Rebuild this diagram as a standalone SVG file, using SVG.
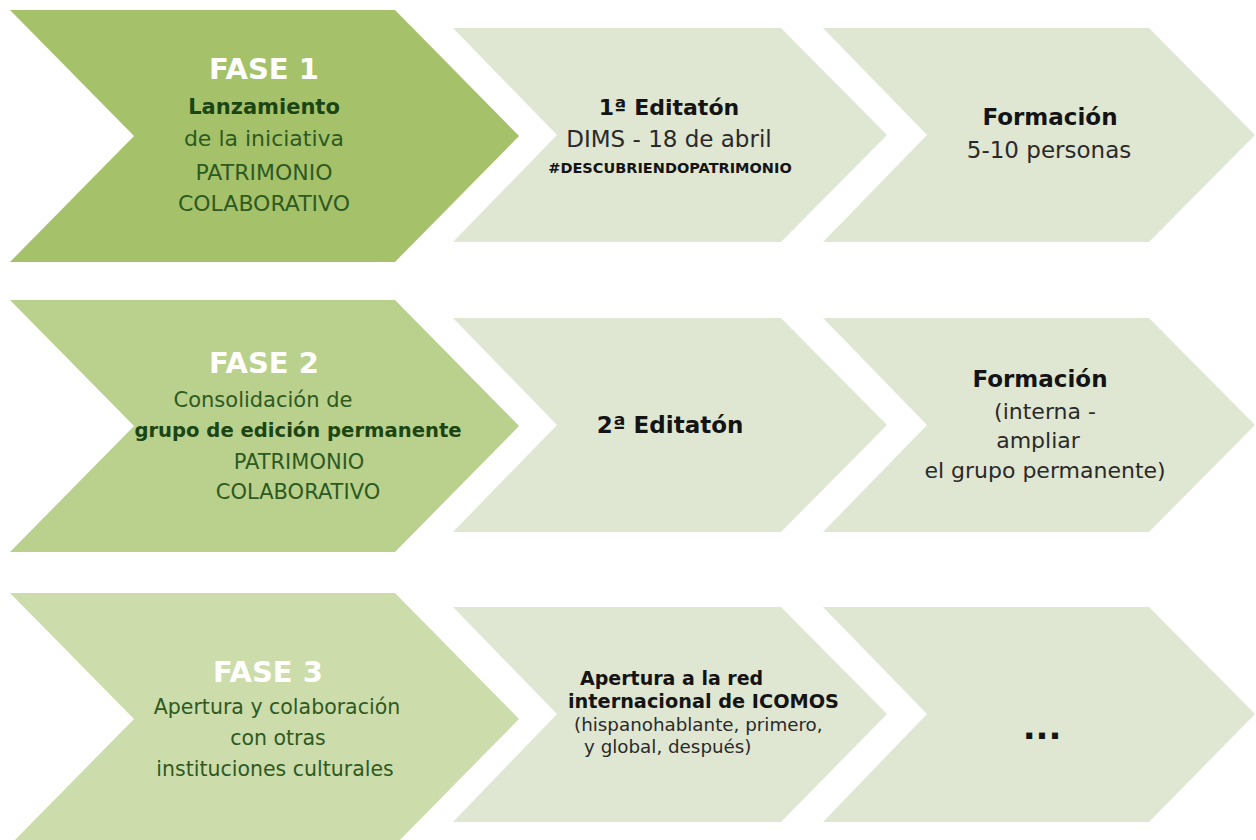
<svg xmlns="http://www.w3.org/2000/svg" width="1256" height="840" viewBox="0 0 1256 840">
<style>
.bg{fill:#ffffff}
.p1{fill:#a5c26b}
.p2{fill:#b9d18c}
.p3{fill:#cddcab}
.st{fill:#dfe6d2}
text{font-family:"DejaVu Sans","Liberation Sans",sans-serif;text-anchor:middle}
.fase{font-weight:bold;fill:#ffffff;font-size:29px}
.gb{font-weight:bold;fill:#1b4512}
.gr{fill:#2e5a22}
.kb{font-weight:bold;fill:#141414}
.kr{fill:#2a2a2a}
.l{text-anchor:start}
</style>
<rect class="bg" x="0" y="0" width="1256" height="840"/>
<g id="connectors"/>
<g id="fase1">
<polygon class="p1" points="10,10 395,10 519,136 395,262 10,262 134,136"/>
<text class="fase" x="264" y="79">FASE 1</text>
<text class="gb" x="264" y="114" font-size="21">Lanzamiento</text>
<text class="gr" x="264" y="146" font-size="22">de la iniciativa</text>
<text class="gr" x="264" y="180" font-size="22">PATRIMONIO</text>
<text class="gr" x="264" y="211" font-size="22">COLABORATIVO</text>
</g>
<g id="editaton1">
<polygon class="st" points="453,28 781,28 887,135 781,242 453,242 557,135"/>
<text class="kb" x="669" y="115" font-size="22">1ª Editatón</text>
<text class="kr" x="669" y="147" font-size="23">DIMS - 18 de abril</text>
<text class="kb" x="670" y="173" font-size="14.5">#DESCUBRIENDOPATRIMONIO</text>
</g>
<g id="formacion1">
<polygon class="st" points="823,28 1149,28 1255,135 1149,242 823,242 927,135"/>
<text class="kb" x="1050" y="125" font-size="23">Formación</text>
<text class="kr" x="1049" y="158" font-size="23">5-10 personas</text>
</g>
<g id="fase2">
<polygon class="p2" points="10,300 395,300 519,426 395,552 10,552 134,426"/>
<text class="fase" x="264" y="373">FASE 2</text>
<text class="gr" x="263" y="407" font-size="21">Consolidación de</text>
<text class="gb" x="298" y="437" font-size="19.6">grupo de edición permanente</text>
<text class="gr" x="299" y="469" font-size="21">PATRIMONIO</text>
<text class="gr" x="298" y="499" font-size="21">COLABORATIVO</text>
</g>
<g id="editaton2">
<polygon class="st" points="453,318 781,318 887,425 781,532 453,532 557,425"/>
<text class="kb" x="670" y="433" font-size="23">2ª Editatón</text>
</g>
<g id="formacion2">
<polygon class="st" points="823,318 1149,318 1255,425 1149,532 823,532 927,425"/>
<text class="kb" x="1040" y="387" font-size="23">Formación</text>
<text class="kr" x="1045" y="419" font-size="22">(interna -</text>
<text class="kr" x="1038" y="448" font-size="22">ampliar</text>
<text class="kr" x="1045" y="478" font-size="22">el grupo permanente)</text>
</g>
<g id="fase3">
<polygon class="p3" points="10,593 395,593 519,719 395,845 10,845 134,719"/>
<text class="fase" x="268" y="682">FASE 3</text>
<text class="gr" x="277" y="714" font-size="20.5">Apertura y colaboración</text>
<text class="gr" x="278" y="745" font-size="20.5">con otras</text>
<text class="gr" x="275" y="776" font-size="20.5">instituciones culturales</text>
</g>
<g id="apertura">
<polygon class="st" points="453,607 781,607 887,714 781,822 453,822 557,714"/>
<text class="kb l" x="580" y="685" font-size="19">Apertura a la red</text>
<text class="kb l" x="568" y="708" font-size="19.3">internacional de ICOMOS</text>
<text class="kr l" x="574" y="731" font-size="18.3">(hispanohablante, primero,</text>
<text class="kr l" x="584" y="753" font-size="18.3">y global, después)</text>
</g>
<g id="continua">
<polygon class="st" points="823,607 1149,607 1255,714 1149,822 823,822 927,714"/>
<text class="kb" x="1042" y="739" font-size="34">...</text>
</g>
</svg>
